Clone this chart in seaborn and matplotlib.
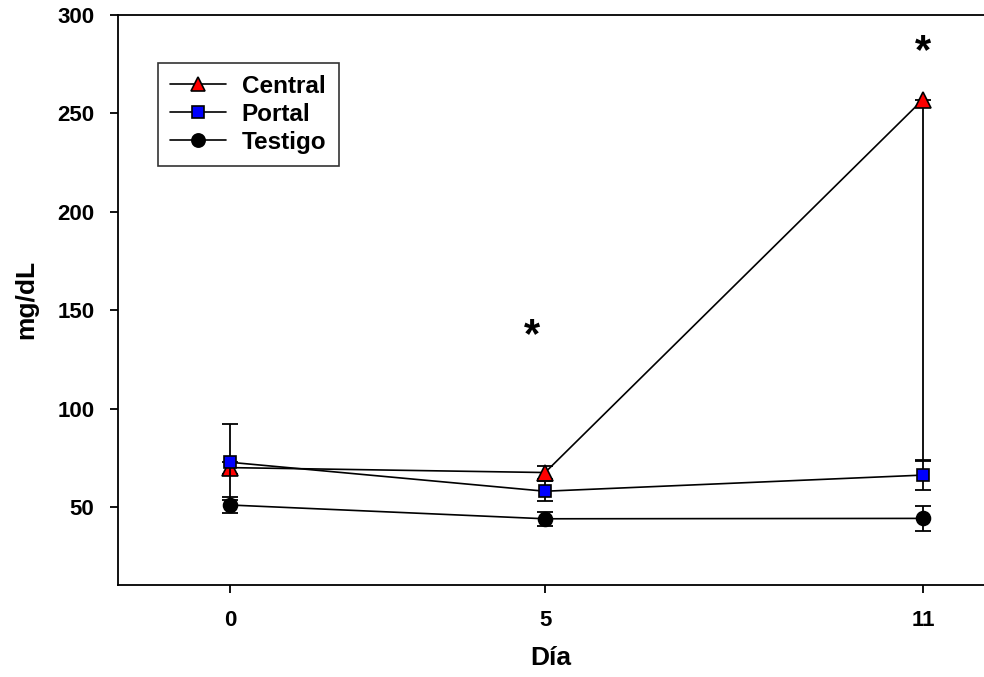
import matplotlib
matplotlib.use("Agg")
import matplotlib.pyplot as plt
import seaborn as sns
import pandas as pd
import numpy as np

days = [0, 5, 11]
central = [70.0, 67.5, 257.0]
central_err_low = [3.0, 3.5, 183.5]
central_err_high = [3.0, 3.5, 0.0]
portal = [72.7, 58.0, 66.2]
portal_err = [19.3, 5.0, 7.7]
testigo = [51.0, 44.0, 44.2]
testigo_err = [4.0, 3.6, 6.4]
series_names = ["Central", "Portal", "Testigo"]
xtick_labels = ["0", "5", "11"]
star_x = [4.8, 11.0]
star_y = [137.0, 281.0]

sns.set_theme(style="ticks")
plt.rcParams['font.family'] = ['Liberation Sans', 'DejaVu Sans']
plt.rcParams['font.weight'] = 'bold'
plt.rcParams['text.color'] = 'black'
plt.rcParams['axes.labelcolor'] = 'black'
plt.rcParams['xtick.color'] = 'black'
plt.rcParams['ytick.color'] = 'black'

df = pd.DataFrame({
    "Día": days * 3,
    "mg/dL": central + portal + testigo,
    "Grupo": ["Central"] * 3 + ["Portal"] * 3 + ["Testigo"] * 3,
})

fig = plt.figure(figsize=(9.84, 6.77), dpi=100)
ax = fig.add_axes([0.12, 0.136, 0.88, 0.842])

styles = {
    "Central": dict(marker="^", color="red", ms=11),
    "Portal": dict(marker="s", color="blue", ms=9),
    "Testigo": dict(marker="o", color="black", ms=10),
}
errs = {
    "Central": [central_err_low, central_err_high],
    "Portal": [portal_err, portal_err],
    "Testigo": [testigo_err, testigo_err],
}
zorders = {"Central": 3, "Portal": 4, "Testigo": 5}

for name in series_names:
    sub = df[df["Grupo"] == name]
    st = styles[name]
    ax.errorbar(sub["Día"], sub["mg/dL"], yerr=errs[name], fmt="none",
                ecolor="black", elinewidth=1.3, capsize=6, capthick=1.3,
                zorder=zorders[name])
    sns.lineplot(data=sub, x="Día", y="mg/dL", ax=ax, color="black",
                 linewidth=1.2, marker=st["marker"], markersize=st["ms"],
                 markerfacecolor=st["color"], markeredgecolor="black",
                 markeredgewidth=1.2, label=name, zorder=zorders[name],
                 errorbar=None)

for sx, sy in zip(star_x, star_y):
    ax.text(sx, sy, "*", ha="center", va="center", fontsize=30,
            fontweight="bold", color="black")

ax.set_xlim(-1.78, 11.97)
ax.set_ylim(10.4, 300)
ax.set_xticks(days)
ax.set_xticklabels(xtick_labels)
ax.set_yticks([50, 100, 150, 200, 250, 300])
ax.tick_params(axis="both", direction="out", length=6, width=1.3,
               labelsize=16, colors="black")
ax.tick_params(axis="y", pad=11)
ax.tick_params(axis="x", pad=12)
for lab in ax.get_xticklabels() + ax.get_yticklabels():
    lab.set_fontweight("bold")
ax.set_xlabel("Día", fontsize=19, fontweight="bold", labelpad=11)
ax.set_ylabel("mg/dL", fontsize=19, fontweight="bold", labelpad=14)

for sp in ["left", "bottom", "top"]:
    ax.spines[sp].set_linewidth(1.3)
    ax.spines[sp].set_color("black")
ax.spines["right"].set_visible(False)

leg = ax.legend(loc="upper left", bbox_to_anchor=(0.046, 0.916),
                borderaxespad=0, frameon=True, fancybox=False,
                edgecolor="black", fontsize=17.5, handlelength=2.3,
                borderpad=0.5, labelspacing=0.2, handletextpad=0.65,
                markerscale=0.95)
leg.get_frame().set_linewidth(1.2)
for t in leg.get_texts():
    t.set_fontweight("bold")
    t.set_color("black")

fig.savefig("out.png", dpi=100)
